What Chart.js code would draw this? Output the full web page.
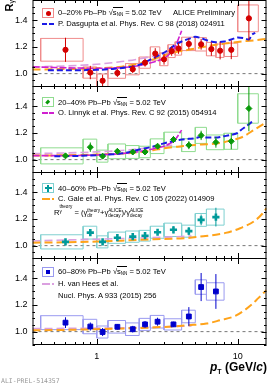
<!DOCTYPE html>
<html lang="en">
<head>
<meta charset="UTF-8">
<title>R_gamma Pb-Pb 5.02 TeV</title>
<script src="https://cdn.jsdelivr.net/npm/chart.js@4"></script>
<style>
  html, body { margin: 0; padding: 0; background: #fff; }
  #wrap { position: relative; width: 275px; height: 385px; overflow: hidden;
          font-family: "Liberation Sans", Arial, sans-serif; color: #000; }
  canvas { position: absolute; left: 0; }
  .t { position: absolute; white-space: nowrap; font-size: 7.6px; line-height: 10px; }
  .t sub { font-size: 4.5px; vertical-align: -1px; }
  .rt { border-top: 0.7px solid #000; padding-top: 0.3px; }
  .lbox { position: absolute; width: 12px; height: 10px; box-sizing: border-box; }
  .lbox i { position: absolute; left: 50%; top: 50%; display: block; }
  .lline { position: absolute; width: 12px; height: 2px; }
  .ss { display: inline-block; vertical-align: middle; line-height: 5px; font-size: 4.6px; text-align: left; }
</style>
</head>
<body>
<div id="wrap">
  <canvas id="c1" width="275" height="87" style="top:0px"></canvas>
  <canvas id="c2" width="275" height="87" style="top:86px"></canvas>
  <canvas id="c3" width="275" height="87" style="top:172px"></canvas>
  <canvas id="c4" width="275" height="107" style="top:258px"></canvas>

  <!-- y title -->
  <div style="position:absolute;left:4px;top:0px;writing-mode:vertical-rl;transform:rotate(180deg);font-size:11px;font-weight:bold;line-height:11px;">R<sub style="font-size:7px;font-weight:normal;">γ</sub></div>

  <!-- panel 1 legend -->
  <div class="lbox" style="left:42px;top:8px;border:1px solid #f08c8c;"><i style="width:5px;height:5px;margin:-2.5px 0 0 -2.5px;border-radius:50%;background:#d40000;"></i></div>
  <div class="t" style="left:58px;top:8px;">0–20% Pb–Pb √<span class="rt">s<sub>NN</sub></span> = 5.02 TeV</div>
  <div class="t" style="left:173px;top:8px;">ALICE Preliminary</div>
  <div class="lline" style="left:42px;top:23px;background:repeating-linear-gradient(90deg,#1a1ae6 0 5px,transparent 5px 7px);"></div>
  <div class="t" style="left:58px;top:19px;">P. Dasgupta et al. Phys. Rev. C 98 (2018) 024911</div>

  <!-- panel 2 legend -->
  <div class="lbox" style="left:42px;top:97px;border:1px solid #8fdc8f;"><i style="width:3.5px;height:3.5px;margin:-1.75px 0 0 -1.75px;transform:rotate(45deg) scaleX(0.75);background:#0a9a0a;"></i></div>
  <div class="t" style="left:58px;top:98px;">20–40% Pb–Pb √<span class="rt">s<sub>NN</sub></span> = 5.02 TeV</div>
  <div class="lline" style="left:42px;top:112px;background:repeating-linear-gradient(90deg,#d020d0 0 6px,transparent 6px 7px);"></div>
  <div class="t" style="left:58px;top:108px;">O. Linnyk et al. Phys. Rev. C 92 (2015) 054914</div>

  <!-- panel 3 legend -->
  <div class="lbox" style="left:42px;top:183px;border:1px solid #7fd0d0;"><i style="width:7px;height:2.4px;margin:-1.2px 0 0 -3.5px;background:#009a9a;"></i><i style="width:2.4px;height:7px;margin:-3.5px 0 0 -1.2px;background:#009a9a;"></i></div>
  <div class="t" style="left:58px;top:184px;">40–60% Pb–Pb √<span class="rt">s<sub>NN</sub></span> = 5.02 TeV</div>
  <div class="lline" style="left:42px;top:198px;background:repeating-linear-gradient(90deg,#ffa31a 0 8px,transparent 8px 10px);"></div>
  <div class="t" style="left:58px;top:194px;">C. Gale et al. Phys. Rev. C 105 (2022) 014909</div>
  <div class="t" style="left:54px;top:204px;line-height:12px;">R<span class="ss" style="vertical-align:2px;">theory<br>γ</span> = (γ<span class="ss">theory<br>dir</span>+γ<span class="ss">ALICE<br>decay</span>)/γ<span class="ss">ALICE<br>decay</span></div>

  <!-- panel 4 legend -->
  <div class="lbox" style="left:42px;top:267px;border:1px solid #9a9af0;"><i style="width:4.5px;height:4.5px;margin:-2.25px 0 0 -2.25px;background:#0000cc;"></i></div>
  <div class="t" style="left:58px;top:267px;">60–80% Pb–Pb √<span class="rt">s<sub>NN</sub></span> = 5.02 TeV</div>
  <div class="lline" style="left:42px;top:283px;background:repeating-linear-gradient(90deg,#dba0e0 0 8px,transparent 8px 10px);"></div>
  <div class="t" style="left:58px;top:279px;">H. van Hees et al.</div>
  <div class="t" style="left:58px;top:291px;">Nucl. Phys. A 933 (2015) 256</div>

  <!-- x title -->
  <div style="position:absolute;right:8px;top:360px;font-size:12px;font-weight:bold;line-height:14px;white-space:nowrap;"><i>p</i><sub style="font-size:7px;">T</sub> (GeV/<i>c</i>)</div>
  <div style="position:absolute;left:1px;top:378px;font-family:'DejaVu Sans Mono',monospace;font-size:6.5px;color:#999;line-height:7px;">ALI-PREL-514357</div>
</div>

<script>
// bins and values, 0-20%
const edges020 = [0.4, 0.8, 1.0, 1.2, 1.6, 2.0, 2.4, 2.8, 3.2, 3.6, 4.0, 5.0, 6.0, 7.0, 8.0, 10, 14];
const pt020 = [0.6, 0.9, 1.1, 1.4, 1.8, 2.2, 2.6, 3.0, 3.4, 3.8, 4.5, 5.5, 6.5, 7.5, 9, 12];
const rg020 = [1.178, 1.008, 0.947, 1.005, 1.033, 1.082, 1.150, 1.107, 1.168, 1.188, 1.222, 1.219, 1.183, 1.171, 1.178, 1.413];
const stat020 = [0.09, 0.05, 0.045, 0.03, 0.03, 0.03, 0.04, 0.04, 0.035, 0.04, 0.04, 0.04, 0.05, 0.065, 0.07, 0.16];
const sys020 = [0.085, 0.042, 0.05, 0.04, 0.042, 0.042, 0.05, 0.048, 0.048, 0.05, 0.05, 0.05, 0.05, 0.05, 0.05, 0.1];

// 20-40%
const edges2040 = [0.4, 0.8, 1.0, 1.2, 1.6, 2.0, 2.4, 3.0, 4.0, 5.0, 6.0, 8.0, 10, 14];
const pt2040 = [0.6, 0.9, 1.1, 1.4, 1.8, 2.2, 2.7, 3.5, 4.5, 5.5, 7, 9, 12];
const rg2040 = [1.028, 1.093, 1.026, 1.062, 1.057, 1.057, 1.10, 1.15, 1.108, 1.181, 1.129, 1.137, 1.382];
const stat2040 = [0.015, 0.035, 0.02, 0.02, 0.02, 0.02, 0.02, 0.025, 0.03, 0.035, 0.04, 0.06, 0.17];
const sys2040 = [0.06, 0.06, 0.045, 0.055, 0.048, 0.043, 0.055, 0.055, 0.048, 0.06, 0.055, 0.06, 0.11];

// 40-60% and 60-80% share the binning
const edges4060 = [0.4, 0.8, 1.0, 1.2, 1.6, 2.0, 2.4, 3.0, 4.0, 5.0, 6.0, 8.0];
const pt4060 = [0.6, 0.9, 1.1, 1.4, 1.8, 2.2, 2.7, 3.5, 4.5, 5.5, 7];
const rg4060 = [1.028, 1.097, 1.028, 1.059, 1.067, 1.074, 1.10, 1.118, 1.108, 1.192, 1.213];
const stat4060 = [0.012, 0.025, 0.02, 0.015, 0.015, 0.015, 0.02, 0.025, 0.03, 0.04, 0.07];
const sys4060 = [0.053, 0.048, 0.045, 0.042, 0.042, 0.04, 0.045, 0.05, 0.045, 0.048, 0.06];

const rg6080 = [1.067, 1.038, 0.997, 1.036, 1.018, 1.054, 1.074, 1.054, 1.113, 1.333, 1.30];
const stat6080 = [0.04, 0.03, 0.03, 0.02, 0.025, 0.025, 0.03, 0.02, 0.07, 0.105, 0.13];
const sys6080 = [0.052, 0.054, 0.045, 0.047, 0.047, 0.045, 0.047, 0.042, 0.047, 0.054, 0.065];

// model curves
const dasX020 = [0.45, 0.6, 0.8, 1.0, 1.3, 1.6, 2.0, 2.4, 2.8, 3.2, 3.6, 4.0, 4.5, 5.0, 5.5, 6.0, 7.0, 8.0, 9.0, 10.0, 11.0, 12.0, 12.6, 13.3];
const dasY020 = [1.025, 1.025, 1.026, 1.028, 1.035, 1.045, 1.065, 1.105, 1.14, 1.175, 1.215, 1.24, 1.26, 1.275, 1.265, 1.25, 1.235, 1.24, 1.255, 1.27, 1.265, 1.255, 1.29, 1.305];
const linX020 = [0.35, 0.5, 0.7, 1.0, 1.5, 2.0, 2.5, 3.0, 3.3, 3.6, 3.8, 4.0];
const linY020 = [1.05, 1.046, 1.042, 1.04, 1.045, 1.06, 1.085, 1.115, 1.15, 1.2, 1.26, 1.32];
const vhX020 = [0.35, 0.6, 1.0, 1.5, 2.0, 2.5, 3.0, 3.6];
const vhY020 = [1.05, 1.057, 1.07, 1.09, 1.11, 1.13, 1.145, 1.165];
const galeX020 = [0.35, 0.6, 1.0, 1.5, 2.0, 2.4, 3.0, 3.6, 4.3, 5.1, 6.5, 8, 10, 13.4, 16];
const galeY020 = [1.03, 1.034, 1.04, 1.052, 1.075, 1.1, 1.135, 1.16, 1.175, 1.19, 1.21, 1.224, 1.237, 1.25, 1.26];

const dasX2040 = [0.5, 0.7, 1.0, 1.3, 1.6, 2.0, 2.4, 2.8, 3.2, 3.6, 4.0, 4.5, 5.0, 5.5, 6.0, 7.0, 8.0, 9.0, 10, 10.5, 11.5, 12.9];
const dasY2040 = [1.025, 1.027, 1.033, 1.04, 1.05, 1.075, 1.093, 1.112, 1.13, 1.14, 1.15, 1.155, 1.16, 1.17, 1.165, 1.165, 1.175, 1.185, 1.2, 1.22, 1.25, 1.29];
const linX2040 = [0.35, 0.6, 1.0, 1.5, 2.0, 2.5, 3.0, 3.3, 3.6, 4.0];
const linY2040 = [1.03, 1.03, 1.035, 1.045, 1.06, 1.08, 1.1, 1.12, 1.15, 1.22];
const vhX2040 = [0.35, 0.6, 1.0, 1.5, 2.0, 2.5, 3.0, 3.6];
const vhY2040 = [1.045, 1.05, 1.058, 1.068, 1.08, 1.09, 1.1, 1.11];
const galeX2040 = [0.35, 0.6, 1.0, 1.5, 2.0, 2.5, 3.0, 4.0, 5.0, 6.0, 7.0, 8.0, 9.0, 10.7, 13.4, 16];
const galeY2040 = [1.03, 1.033, 1.038, 1.045, 1.055, 1.07, 1.085, 1.1, 1.11, 1.115, 1.12, 1.13, 1.145, 1.167, 1.23, 1.28];

const vhX4060 = [0.35, 0.6, 1.0, 1.5, 2.0, 3.0, 4.0, 4.7];
const vhY4060 = [1.035, 1.042, 1.048, 1.053, 1.057, 1.063, 1.068, 1.072];
const galeX4060 = [0.35, 0.6, 1.0, 1.5, 2.0, 3.0, 4.4, 5.7, 7.0, 8.2, 10.4, 13, 15, 16];
const galeY4060 = [1.022, 1.025, 1.03, 1.037, 1.043, 1.05, 1.057, 1.07, 1.082, 1.095, 1.13, 1.18, 1.24, 1.28];

const vhX6080 = [0.35, 0.6, 1.0, 2.0, 3.0, 4.0, 4.7];
const vhY6080 = [1.022, 1.024, 1.026, 1.03, 1.035, 1.04, 1.043];
const galeX6080 = [0.35, 0.6, 1.0, 2.0, 3.0, 4.5, 6.0, 7.5, 9.5, 11, 12.5, 14, 16];
const galeY6080 = [1.01, 1.013, 1.018, 1.027, 1.035, 1.048, 1.06, 1.085, 1.115, 1.155, 1.2, 1.25, 1.31];

// axes
const xMin = 0.35, xMax = 16, yMin = 0.9, yMax = 1.55;
const yLabels = [1.0, 1.2, 1.4];
const xLabels = [1, 10];
const xTickVals = [0.4, 0.5, 0.6, 0.7, 0.8, 0.9, 1, 2, 3, 4, 5, 6, 7, 8, 9, 10];
const yTickVals = [0.9, 0.95, 1.0, 1.05, 1.1, 1.15, 1.2, 1.25, 1.3, 1.35, 1.4, 1.45, 1.5];

function curve(xs, ys) { return xs.map((x, i) => ({x, y: ys[i]})); }

function boxes(edges, vals, sys) {
  const out = [];
  vals.forEach((v, i) => {
    const lo = v - sys[i], hi = v + sys[i];
    out.push({x: edges[i], y: lo}, {x: edges[i + 1], y: lo}, {x: edges[i + 1], y: hi},
             {x: edges[i], y: hi}, {x: edges[i], y: lo}, {x: edges[i], y: null});
  });
  return out;
}

function errBars(pts, vals, err) {
  const out = [];
  vals.forEach((v, i) => {
    out.push({x: pts[i], y: v - err[i]}, {x: pts[i], y: v + err[i]}, {x: pts[i], y: null});
  });
  return out;
}

function model(xs, ys, color, dash, width) {
  return {data: curve(xs, ys), borderColor: color, borderDash: dash, borderWidth: width || 2,
          pointRadius: 0, cubicInterpolationMode: 'monotone', fill: false};
}

function markers(pts, vals, stat, col, style, radius, pw) {
  return [
    {data: curve(pts, vals), showLine: false, pointStyle: style, pointRadius: radius,
     pointBackgroundColor: col, pointBorderColor: col, pointBorderWidth: pw || 1},
    {data: errBars(pts, vals, stat), borderColor: col, borderWidth: 1, pointRadius: 0, spanGaps: false}
  ];
}

function boxSet(edges, vals, sys, boxCol) {
  return {data: boxes(edges, vals, sys), borderColor: boxCol, borderWidth: 1, pointRadius: 0, spanGaps: false};
}

const unity = {data: [{x: xMin, y: 1}, {x: xMax, y: 1}], borderColor: '#777', borderDash: [3, 3],
               borderWidth: 1, pointRadius: 0};

const rootFrame = {
  id: 'rootFrame',
  afterDraw(chart) {
    const {ctx, chartArea: a, scales: {x, y}} = chart;
    ctx.save();
    ctx.strokeStyle = '#000';
    ctx.lineWidth = 1;
    ctx.beginPath();
    xTickVals.forEach(v => {
      const px = Math.round(x.getPixelForValue(v)) + 0.5;
      const len = (v === 1 || v === 10) ? 6 : 3;
      ctx.moveTo(px, a.bottom); ctx.lineTo(px, a.bottom - len);
      ctx.moveTo(px, a.top); ctx.lineTo(px, a.top + len);
    });
    yTickVals.forEach(v => {
      const py = Math.round(y.getPixelForValue(v)) + 0.5;
      const len = yLabels.some(l => Math.abs(l - v) < 1e-6) ? 5 : 2.5;
      ctx.moveTo(a.left, py); ctx.lineTo(a.left + len, py);
      ctx.moveTo(a.right, py); ctx.lineTo(a.right - len, py);
    });
    ctx.stroke();
    ctx.strokeRect(a.left + 0.5, a.top + 0.5, a.right - a.left - 1, a.bottom - a.top - 1);
    ctx.restore();
  }
};

function makePanel(id, datasets, showX) {
  new Chart(document.getElementById(id), {
    type: 'line',
    data: {datasets},
    plugins: [rootFrame],
    options: {
      responsive: false,
      animation: false,
      devicePixelRatio: 1,
      events: [],
      layout: {autoPadding: false, padding: {left: 0, right: 8.5, top: 0, bottom: 0}},
      plugins: {legend: {display: false}, tooltip: {enabled: false}},
      scales: {
        x: {
          type: 'logarithmic', min: xMin, max: xMax, display: showX,
          grid: {display: false, drawTicks: false}, border: {display: false},
          afterBuildTicks: s => { s.ticks = xLabels.map(v => ({value: v})); },
          afterFit: s => { s.height = showX ? 20 : 0; s.paddingLeft = 0; s.paddingRight = 0; },
          ticks: {color: '#000', padding: 6, font: {family: 'Liberation Sans', size: 9},
                  callback: v => String(v), maxRotation: 0, autoSkip: false}
        },
        y: {
          type: 'linear', min: yMin, max: yMax,
          grid: {display: false, drawTicks: false}, border: {display: false},
          afterBuildTicks: s => { s.ticks = yLabels.map(v => ({value: v})); },
          afterFit: s => { s.width = 32.5; s.paddingTop = 0; s.paddingBottom = 0; },
          ticks: {color: '#000', padding: 5, font: {family: 'Liberation Sans', size: 9},
                  callback: v => v.toFixed(1)}
        }
      }
    }
  });
}

const red = '#d40000', green = '#0a9a0a', teal = '#009a9a', blue = '#0000cc';
const cBlue = '#1a1ae6', cMag = '#d020d0', cVio = '#dba0e0', cOra = '#ffa31a';

makePanel('c1', [
  ...markers(pt020, rg020, stat020, red, 'circle', 2.6),
  model(dasX020, dasY020, cBlue, [6, 3]),
  model(linX020, linY020, cMag, [7, 2], 1.6),
  model(galeX020, galeY020, cOra, [8, 4]),
  model(vhX020, vhY020, cVio, [8, 4], 1.6),
  boxSet(edges020, rg020, sys020, '#f08c8c'),
  unity
], false);

makePanel('c2', [
  ...markers(pt2040, rg2040, stat2040, green, 'rectRot', 3),
  model(dasX2040, dasY2040, cBlue, [6, 3]),
  model(linX2040, linY2040, cMag, [7, 2], 1.6),
  model(galeX2040, galeY2040, cOra, [8, 4]),
  model(vhX2040, vhY2040, cVio, [8, 4], 1.6),
  boxSet(edges2040, rg2040, sys2040, '#8fdc8f'),
  unity
], false);

makePanel('c3', [
  ...markers(pt4060, rg4060, stat4060, teal, 'cross', 3.6, 2.6),
  model(galeX4060, galeY4060, cOra, [8, 4]),
  model(vhX4060, vhY4060, cVio, [8, 4], 1.6),
  boxSet(edges4060, rg4060, sys4060, '#7fd0d0'),
  unity
], false);

makePanel('c4', [
  ...markers(pt4060, rg6080, stat6080, blue, 'rect', 3.4),
  model(galeX6080, galeY6080, cOra, [8, 4]),
  model(vhX6080, vhY6080, cVio, [8, 4], 1.6),
  boxSet(edges4060, rg6080, sys6080, '#9a9af0'),
  unity
], true);
</script>
</body>
</html>
